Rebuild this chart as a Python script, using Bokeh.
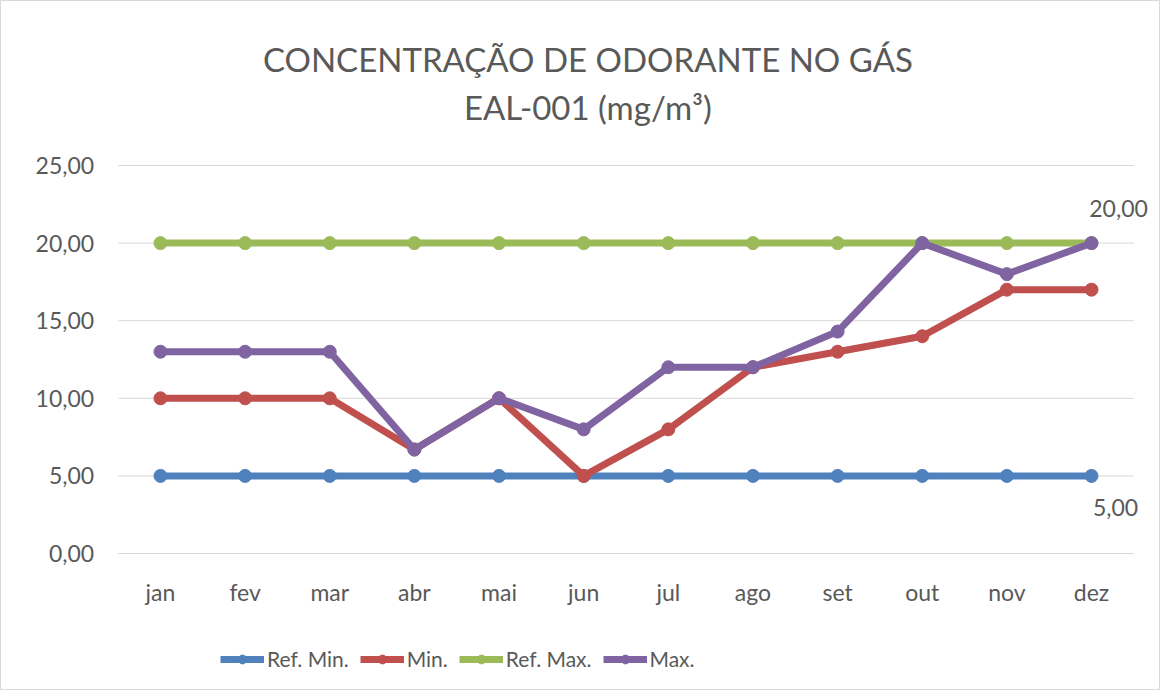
from bokeh.plotting import figure
from bokeh.models import Range1d, Legend, LegendItem, ColumnDataSource
from bokeh.core.properties import value
from bokeh.embed import file_html
from bokeh.resources import INLINE

# ---- data ----
months = ["jan", "fev", "mar", "abr", "mai", "jun", "jul", "ago", "set", "out", "nov", "dez"]
ref_min = [5, 5, 5, 5, 5, 5, 5, 5, 5, 5, 5, 5]
min_vals = [10, 10, 10, 6.7, 10, 5, 8, 12, 13, 14, 17, 17]
ref_max = [20, 20, 20, 20, 20, 20, 20, 20, 20, 20, 20, 20]
max_vals = [13, 13, 13, 6.7, 10, 8, 12, 12, 14.3, 20, 18, 20]
y_ticks = [0, 5, 10, 15, 20, 25]
y_tick_labels = ["0,00", "5,00", "10,00", "15,00", "20,00", "25,00"]
series_names = ["Ref. Min.", "Min.", "Ref. Max.", "Max."]
title_lines = ["CONCENTRAÇÃO DE ODORANTE NO GÁS", "EAL-001 (mg/m³)"]

colors = ["#4F81BD", "#C0504D", "#9BBB59", "#8064A2"]
FONT = "Lato"
TXT = "#595959"
GRID = "#d9d9d9"

xs = list(range(len(months)))          # category positions
x_lo, x_hi = -0.5, len(months) - 0.5  # plot area edges (category bands)

p = figure(x_range=Range1d(-1.890, 11.815), y_range=Range1d(-8.827, 35.632),
           width=1160, height=690, output_backend="svg", toolbar_location=None,
           x_axis_type=None, y_axis_type=None, min_border=0)
p.grid.visible = False
p.outline_line_color = GRID
p.background_fill_color = "white"
p.border_fill_color = "white"

# horizontal gridlines
p.segment(x0=[x_lo] * len(y_ticks), x1=[x_hi] * len(y_ticks), y0=y_ticks, y1=y_ticks,
          line_color=GRID, line_width=1)

# y tick labels
p.text(x=[x_lo] * len(y_ticks), y=y_ticks, text=y_tick_labels, x_offset=-24,
       text_align="right", text_baseline="middle", text_font=value(FONT),
       text_font_size="23px", text_color=TXT)
# x tick labels
p.text(x=xs, y=[y_ticks[0]] * len(xs), text=months, y_offset=38,
       text_align="center", text_baseline="middle", text_font=value(FONT),
       text_font_size="23px", text_color=TXT)

items = []
for name, vals, c in zip(series_names, [ref_min, min_vals, ref_max, max_vals], colors):
    src = ColumnDataSource(dict(x=xs, y=vals))
    r1 = p.line("x", "y", source=src, line_color=c, line_width=7, line_join="round")
    r2 = p.scatter("x", "y", source=src, size=13, fill_color=c, line_color=c)
    items.append(LegendItem(label=name, renderers=[r1, r2]))

legend = Legend(items=items, orientation="horizontal", location=(220, 19),
                label_text_font=FONT, label_text_font_size="21px",
                label_text_color=TXT, glyph_width=44, glyph_height=22,
                label_standoff=3, spacing=11, border_line_color=None,
                background_fill_alpha=0, margin=0, padding=4)
p.add_layout(legend)

# data labels on last points
fmt = lambda v: f"{v:.2f}".replace(".", ",")
p.text(x=[xs[-1]], y=[max_vals[-1]], text=[fmt(max_vals[-1])], x_offset=27, y_offset=-35,
       text_align="center", text_baseline="middle", text_font=value(FONT),
       text_font_size="23px", text_color=TXT)
p.text(x=[xs[-1]], y=[ref_min[-1]], text=[fmt(ref_min[-1])], x_offset=24, y_offset=32,
       text_align="center", text_baseline="middle", text_font=value(FONT),
       text_font_size="23px", text_color=TXT)

# chart title (two lines)
p.text(x=[5.05, 5.05], y=[31.85, 28.75], text=title_lines,
       text_align="center", text_baseline="alphabetic", text_font=value(FONT),
       text_font_size="33px", text_color=TXT)

open("out.html", "w").write(file_html(p, INLINE))
